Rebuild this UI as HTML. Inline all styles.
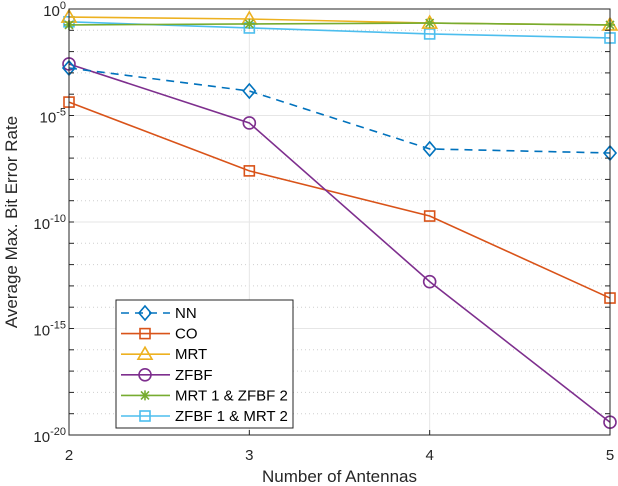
<!DOCTYPE html>
<html><head><meta charset="utf-8"><style>
html,body{margin:0;padding:0;background:#fff;}
svg{display:block;font-family:"Liberation Sans",sans-serif;}
</style></head><body>
<svg id="chart" width="618" height="486" viewBox="0 0 618 486" xmlns="http://www.w3.org/2000/svg">
<g id="grid"></g>
<g id="series"></g>
<rect x="69" y="9" width="541" height="426" fill="none" stroke="#262626" stroke-width="1"/>
<g id="ticks"></g>
<text x="339.5" y="482" text-anchor="middle" font-size="17" fill="#262626">Number of Antennas</text>
<text transform="translate(17,222) rotate(-90)" text-anchor="middle" font-size="17" fill="#262626">Average Max. Bit Error Rate</text>
<g id="legend"></g>
</svg>
<script>
const antennas=[2,3,4,5];
const nnLog=[-2.77,-3.85,-6.57,-6.76];
const coLog=[-4.37,-7.6,-9.72,-13.57];
const mrtLog=[-0.38,-0.47,-0.66,-0.75];
const zfbfLog=[-2.58,-5.35,-12.8,-19.4];
const mrtZfbfLog=[-0.75,-0.7,-0.66,-0.75];
const zfbfMrtLog=[-0.6,-0.89,-1.17,-1.36];
const xTicks=[2,3,4,5];
const yTickExp=[0,-5,-10,-15,-20];
const seriesNames=["NN","CO","MRT","ZFBF","MRT 1 & ZFBF 2","ZFBF 1 & MRT 2"];

const NS="http://www.w3.org/2000/svg";
const L=69,R=610,T=9,B=435;
const xs=v=>L+(v-2)/(5-2)*(R-L);
const ys=e=>T+(0-e)/20*(B-T);
function mk(tag,attrs,parent){const e=document.createElementNS(NS,tag);for(const k in attrs)e.setAttribute(k,attrs[k]);parent.appendChild(e);return e;}
const grid=document.getElementById('grid'),ticks=document.getElementById('ticks'),ser=document.getElementById('series'),leg=document.getElementById('legend');
for(let e=0;e>=-20;e--){
  const major=e%5===0;
  const g=mk('line',{x1:L,x2:R,y1:ys(e),y2:ys(e),stroke:major?'#e6e6e6':'#cfcfcf','stroke-width':1,'stroke-dasharray':major?'':'1,3'},grid);
  
  
  const t1=mk('line',{x1:L,x2:L+5,y1:ys(e),y2:ys(e),stroke:'#262626'},ticks);
  
  
  const t2=mk('line',{x1:R-5,x2:R,y1:ys(e),y2:ys(e),stroke:'#262626'},ticks);
  
  
}
xTicks.forEach(v=>{
  const g=mk('line',{x1:xs(v),x2:xs(v),y1:T,y2:B,stroke:'#e6e6e6'},grid);
  
  
  const t=mk('line',{x1:xs(v),x2:xs(v),y1:B-5,y2:B,stroke:'#262626'},ticks);
  
  
  const tl=mk('text',{x:xs(v),y:B+25,'text-anchor':'middle','font-size':15,fill:'#262626'},ticks);
  tl.textContent=v;
  
  
});
yTickExp.forEach(e=>{
  const t=mk('text',{x:L-3,y:ys(e)+7,'text-anchor':'end','font-size':15,fill:'#262626'},ticks);
  
  
  t.innerHTML='10<tspan dy="-7" font-size="11">'+e+'</tspan>';
});
function marker(type,x,y,c,p){
  const s=6;let m;
  if(type==='d')m=mk('polygon',{points:`${x},${y-s-1} ${x+s},${y} ${x},${y+s+1} ${x-s},${y}`,fill:'none',stroke:c,'stroke-width':1.6},p);
  else if(type==='s')m=mk('rect',{x:x-5,y:y-5,width:10,height:10,fill:'none',stroke:c,'stroke-width':1.6},p);
  else if(type==='t')m=mk('polygon',{points:`${x},${y-7} ${x+7},${y+5} ${x-7},${y+5}`,fill:'none',stroke:c,'stroke-width':1.6},p);
  else if(type==='o')m=mk('circle',{cx:x,cy:y,r:6,fill:'none',stroke:c,'stroke-width':1.6},p);
  else{m=mk('path',{d:`M${x-5},${y}H${x+5}M${x},${y-5}V${y+5}M${x-4},${y-4}L${x+4},${y+4}M${x-4},${y+4}L${x+4},${y-4}`,stroke:c,'stroke-width':1.6},p);}
  
  
}
const defs=[[nnLog,'#0072bd','d','8,6'],[coLog,'#d95319','s',''],[mrtLog,'#edb120','t',''],[zfbfLog,'#7e2f8e','o',''],[mrtZfbfLog,'#77ac30','*',''],[zfbfMrtLog,'#4dbeee','s','']];
const order=[1,3,5,2,4,0];
order.forEach(i=>{
  const [d,c,mt,dash]=defs[i];
  const g=mk('g',{},ser);
  
  
  const pl=mk('polyline',{points:antennas.map((a,j)=>xs(a)+','+ys(d[j])).join(' '),fill:'none',stroke:c,'stroke-width':1.6,'stroke-dasharray':dash},g);
  
  
  antennas.forEach((a,j)=>marker(mt,xs(a),ys(d[j]),c,g));
});
const lb=mk('rect',{x:116,y:300,width:177,height:128,fill:'#fff',stroke:'#262626','stroke-width':1},leg);


defs.forEach((df,i)=>{
  const y=313+i*20.6;
  const g=mk('g',{},leg);
  
  
  mk('line',{x1:121,x2:170,y1:y,y2:y,stroke:df[1],'stroke-width':1.6,'stroke-dasharray':df[3]},g);
  marker(df[2],145,y,df[1],g);
  const t=mk('text',{x:175,y:y+5,'font-size':15,fill:'#000'},g);
  t.textContent=seriesNames[i];
});
</script>
</body></html>
